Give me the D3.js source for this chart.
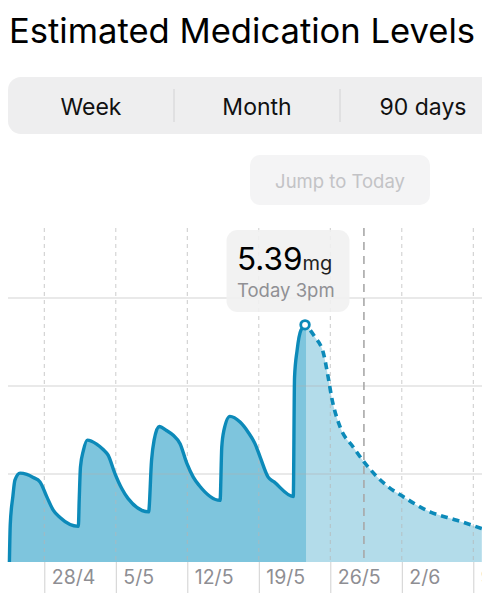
<!DOCTYPE html>
<html><head><meta charset="utf-8">
<script src="https://cdn.jsdelivr.net/npm/d3@7"></script>
<style>
html,body{margin:0;padding:0;background:#fff;}
svg{display:block;}
text{font-family:Inter,"Noto Sans",sans-serif;}
</style></head>
<body>
<svg id="c" width="482" height="600"></svg>
<script>
// ---- data ----
const title = "Estimated Medication Levels";
const ranges = ["Week", "Month", "90 days"];
const jumpLabel = "Jump to Today";
const pastTimes = [
 "2024-04-24 14:00","2024-04-24 16:00","2024-04-24 22:00","2024-04-25 03:00","2024-04-25 15:00",
 "2024-04-26 07:00","2024-04-26 22:00","2024-04-27 14:00","2024-04-28 06:00","2024-04-28 21:00",
 "2024-04-29 13:00","2024-05-01 08:00",
 "2024-05-01 10:00","2024-05-01 13:00","2024-05-01 20:00","2024-05-02 05:00","2024-05-03 03:00",
 "2024-05-03 19:00","2024-05-04 06:00","2024-05-04 22:00","2024-05-05 14:00","2024-05-06 05:00",
 "2024-05-08 05:00",
 "2024-05-08 12:00","2024-05-08 18:00","2024-05-09 06:00","2024-05-09 23:00","2024-05-10 15:00",
 "2024-05-11 07:00","2024-05-11 23:00","2024-05-12 14:00","2024-05-13 04:00","2024-05-15 05:00",
 "2024-05-15 09:00","2024-05-15 14:00","2024-05-16 04:00","2024-05-17 04:00","2024-05-17 23:00",
 "2024-05-18 15:00","2024-05-19 03:00","2024-05-19 22:00","2024-05-20 12:00","2024-05-22 09:00",
 "2024-05-22 12:00","2024-05-22 18:00","2024-05-23 03:00","2024-05-23 15:00"
];
const pastLevels = [
 0, 0.85, 1.48, 1.86, 2.02,
 1.99, 1.92, 1.82, 1.48, 1.18,
 1.01, 0.81,
 1.40, 2.16, 2.54, 2.77, 2.68,
 2.55, 2.43, 2.01, 1.67, 1.44,
 1.14,
 2.31, 2.77, 3.08, 2.99, 2.88,
 2.69, 2.24, 1.93, 1.74, 1.40,
 2.61, 2.99, 3.31, 3.18, 2.95,
 2.69, 2.39, 1.93, 1.82, 1.49,
 4.20, 4.81, 5.27, 5.39
];
const futureTimes = [
 "2024-05-23 15:00","2024-05-24 12:00","2024-05-25 08:00","2024-05-25 19:00","2024-05-26 03:00",
 "2024-05-26 23:00","2024-05-28 06:00","2024-05-29 10:00","2024-05-31 12:00","2024-06-02 04:00",
 "2024-06-04 18:00","2024-06-07 09:00","2024-06-09 20:00"
];
const futureLevels = [5.39, 5.11, 4.74, 4.20, 3.75, 3.07, 2.61, 2.24, 1.74, 1.48, 1.14, 0.95, 0.76];
const tickDates = ["2024-04-28","2024-05-05","2024-05-12","2024-05-19","2024-05-26","2024-06-02","2024-06-09"];
const yGridValues = [2, 4, 6];
const markerTime = "2024-05-29 07:00";
const todayValue = "5.39", todayUnit = "mg", todayLabel = "Today 3pm";

// ---- build ----
const parseT = d3.timeParse("%Y-%m-%d %H:%M");
const parseD = d3.timeParse("%Y-%m-%d");
const past = pastTimes.map((t,i)=>({t:parseT(t), v:pastLevels[i]}));
const future = futureTimes.map((t,i)=>({t:parseT(t), v:futureLevels[i]}));
const ticks = tickDates.map(parseD);

const svg = d3.select("#c");
const W = 482;
const baseY = 562, topY = 228;

const x = d3.scaleTime().domain([parseD("2024-04-28"), parseD("2024-06-09")]).range([44.3, 473.3]);
const y = d3.scaleLinear().domain([0, 6]).range([baseY, baseY - 264]);

// header
svg.append("text").attr("x", 9).attr("y", 43).attr("font-size", 34.6).attr("fill", "#000")
  .attr("font-weight", 400).text(title);

svg.append("rect").attr("x", 8).attr("y", 77).attr("width", 520).attr("height", 57)
  .attr("rx", 13).attr("fill", "#eeeeef");
const segW = 166;
ranges.forEach((r,i)=>{
  svg.append("text").attr("x", 8 + segW*i + segW/2).attr("y", 114.5).attr("text-anchor","middle")
    .attr("font-size", 23).attr("fill", "#111").text(r);
  if (i>0) svg.append("line").attr("x1", 8+segW*i).attr("x2", 8+segW*i).attr("y1", 89).attr("y2", 122)
    .attr("stroke", "#d2d2d4").attr("stroke-width", 1);
});

svg.append("rect").attr("x", 250).attr("y", 155).attr("width", 180).attr("height", 50)
  .attr("rx", 10).attr("fill", "#f4f4f5");
svg.append("text").attr("x", 340).attr("y", 187.5).attr("text-anchor","middle")
  .attr("font-size", 18.5).attr("fill", "#c3c3c6").text(jumpLabel);

// areas
const area = d3.area().x(d=>x(d.t)).y0(baseY).y1(d=>y(d.v)).curve(d3.curveMonotoneX);
const line = d3.line().x(d=>x(d.t)).y(d=>y(d.v)).curve(d3.curveMonotoneX);

svg.append("path").datum(future).attr("d", area).attr("fill", "#b3dcea");
svg.append("path").datum(past).attr("d", area).attr("fill", "#7ec5dd");

// horizontal gridlines
svg.append("g").selectAll("line").data(yGridValues).join("line")
  .attr("x1", 8).attr("x2", W).attr("y1", d=>y(d)).attr("y2", d=>y(d))
  .attr("stroke", "#b0b0b0").attr("stroke-opacity", 0.55).attr("stroke-width", 1);

// vertical dashed gridlines
svg.append("g").selectAll("line").data(ticks).join("line")
  .attr("x1", d=>x(d)).attr("x2", d=>x(d)).attr("y1", topY).attr("y2", baseY)
  .attr("stroke", "#b5b5b5").attr("stroke-opacity", 0.7).attr("stroke-width", 1)
  .attr("stroke-dasharray", "4,4");

// marker line
const mx = x(parseT(markerTime));
svg.append("line").attr("x1", mx).attr("x2", mx).attr("y1", topY).attr("y2", baseY)
  .attr("stroke", "#a8a8a8").attr("stroke-width", 1.6).attr("stroke-dasharray", "8,6");

// x axis
const xAxis = d3.axisBottom(x).tickValues(ticks).tickFormat(d3.timeFormat("%-d/%-m"))
  .tickSize(31).tickPadding(0);
const gx = svg.append("g").attr("transform", `translate(0,${baseY})`).call(xAxis);
gx.select(".domain").remove();
gx.selectAll(".tick line").attr("stroke", "#d0d0d0").attr("stroke-width", 1);
gx.selectAll(".tick text").attr("text-anchor", "start").attr("x", 7).attr("y", 8)
  .attr("dy", "0.71em").attr("font-size", 19.5).attr("fill", "#8e8e93")
  .attr("font-family", "Inter, 'Noto Sans', sans-serif");

// lines
const lineColor = "#0c8ab9";
svg.append("path").datum(past).attr("d", line).attr("fill", "none")
  .attr("stroke", lineColor).attr("stroke-width", 3.4).attr("stroke-linejoin", "round");
svg.append("path").datum(future).attr("d", line).attr("fill", "none")
  .attr("stroke", lineColor).attr("stroke-width", 3.6).attr("stroke-dasharray", "7,5")
  .attr("stroke-dashoffset", -7);

// tooltip
svg.append("rect").attr("x", 226.5).attr("y", 230).attr("width", 123).attr("height", 82)
  .attr("rx", 11).attr("fill", "#f0f0f0").attr("fill-opacity", 0.88);
const tt = svg.append("text").attr("x", 237).attr("y", 270);
tt.append("tspan").attr("font-size", 31.5).attr("fill", "#000").text(todayValue);
tt.append("tspan").attr("font-size", 20).attr("fill", "#222").text(todayUnit);
svg.append("text").attr("x", 237).attr("y", 296.5).attr("font-size", 18.5).attr("fill", "#909094").text(todayLabel);

// today point
const tp = past[past.length-1];
svg.append("circle").attr("cx", x(tp.t)-1).attr("cy", y(tp.v)).attr("r", 4.3)
  .attr("fill", "#fff").attr("stroke", lineColor).attr("stroke-width", 2.8);
</script>
</body></html>
